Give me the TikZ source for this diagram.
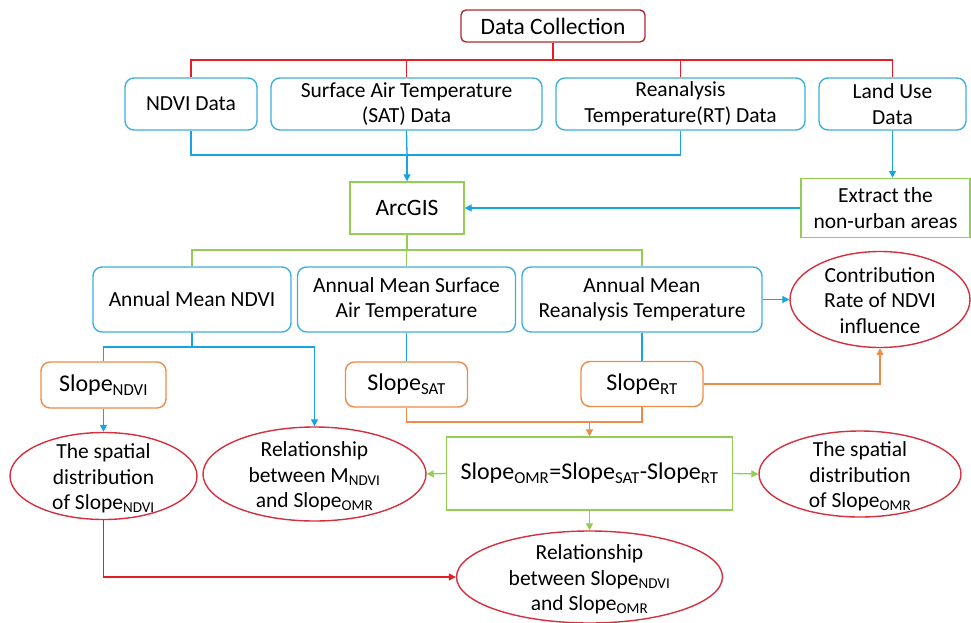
\documentclass[tikz,border=0pt]{standalone}
\usepackage{fontspec}
\setmainfont{Carlito}
\usepackage{tikz}
\usetikzlibrary{arrows.meta,shapes.geometric}
\definecolor{headred}{RGB}{178,40,52}
\definecolor{ovalred}{RGB}{212,48,62}
\definecolor{linered}{RGB}{228,30,36}
\definecolor{boxblue}{RGB}{62,176,222}
\definecolor{lineblue}{RGB}{22,164,226}
\definecolor{leafgreen}{RGB}{146,206,82}
\definecolor{slopeorange}{RGB}{236,140,72}
\newcommand{\ovaltext}[1]{\makebox[0pt]{\smash{\raisebox{-.38em}{\begin{tabular}{@{}c@{}}#1\end{tabular}}}}}

\begin{document}
\begin{tikzpicture}[x=1pt,y=-1pt,
  every node/.style={font=\fontsize{21.5}{25.5}\selectfont,align=center,inner sep=2pt},
  headbox/.style={draw=headred,line width=1.4pt,rounded corners=5pt,font=\fontsize{23.5}{28}\selectfont},
  databox/.style={draw=boxblue,line width=1.4pt,rounded corners=9pt},
  gisbox/.style={draw=leafgreen,line width=1.4pt},
  slopebox/.style={draw=slopeorange,line width=1.4pt,rounded corners=9pt,font=\fontsize{24}{28}\selectfont},
  result/.style={draw=ovalred,line width=1.4pt,ellipse,inner sep=0pt},
  redline/.style={linered,line width=1.3pt},
  blueline/.style={lineblue,line width=1.3pt},
  greenline/.style={leafgreen,line width=1.3pt},
  orangeline/.style={slopeorange,line width=1.3pt},
  >={Triangle[length=7pt,width=7pt]}]
  \useasboundingbox[fill=white] (0,0) rectangle (971,623);
  % data sources
  \node[headbox,minimum width=184,minimum height=32] (dc) at (553,26) {Data Collection};
  \node[databox,minimum width=132,minimum height=52] (ndvi) at (191,104) {NDVI Data};
  \node[databox,minimum width=271,minimum height=52] (sat) at (406.5,104) {Surface Air Temperature\\(SAT) Data};
  \node[databox,minimum width=249,minimum height=52] (rt) at (680.5,104) {Reanalysis\\Temperature(RT) Data};
  \node[databox,minimum width=147,minimum height=52] (lu) at (892.5,104) {Land Use\\Data};
  % processing
  \node[gisbox,minimum width=114,minimum height=52,font=\fontsize{23.5}{28}\selectfont] (arc) at (407,208) {ArcGIS};
  \node[gisbox,minimum width=169,minimum height=59] (ext) at (885.5,208) {Extract the\\non-urban areas};
  \node[databox,minimum width=198,minimum height=65] (amn) at (192,299.5) {Annual Mean NDVI};
  \node[databox,minimum width=218,minimum height=65] (ams) at (406.5,299.5) {Annual Mean Surface\\Air Temperature};
  \node[databox,minimum width=240,minimum height=65] (amr) at (642,299.5) {Annual Mean\\Reanalysis Temperature};
  \node[result,minimum width=180,minimum height=96] (cr) at (880,299.5) {\ovaltext{Contribution\\Rate of NDVI\\influence}};
  \node[slopebox,minimum width=125,minimum height=46] (sn) at (103.5,385) {Slope\textsubscript{NDVI}};
  \node[slopebox,minimum width=122,minimum height=45] (ss) at (406.5,384.5) {Slope\textsubscript{SAT}};
  \node[slopebox,minimum width=122,minimum height=45] (sr) at (642,384) {Slope\textsubscript{RT}};
  \node[gisbox,slopebox,draw=leafgreen,rounded corners=0pt,minimum width=286,minimum height=73] (omr) at (589.5,473.5) {Slope\textsubscript{OMR}=Slope\textsubscript{SAT}-Slope\textsubscript{RT}};
  % results
  \node[result,minimum width=187,minimum height=87] (dn) at (103.5,476) {\ovaltext{The spatial\\distribution\\of Slope\textsubscript{NDVI}}};
  \node[result,minimum width=223,minimum height=94] (rm) at (314.5,474) {\ovaltext{Relationship\\between M\textsubscript{NDVI}\\and Slope\textsubscript{OMR}}};
  \node[result,minimum width=202,minimum height=86] (do) at (860,474) {\ovaltext{The spatial\\distribution\\of Slope\textsubscript{OMR}}};
  \node[result,minimum width=266,minimum height=92] (rb) at (589.5,577) {\ovaltext{Relationship\\between Slope\textsubscript{NDVI}\\and Slope\textsubscript{OMR}}};
  % branching points
  \coordinate (split) at (553,60);
  \coordinate (merge) at (407,155);
  \coordinate (gsplit) at (407,250);
  \coordinate (nsplit) at (192,347);
  \coordinate (osplit) at (589.5,422);
  % connectors
  \draw[redline] (dc.south) -- (split);
  \draw[redline] (ndvi.north) |- (split) -| (lu.north);
  \draw[redline] (sat.north) -- (sat.north |- split);
  \draw[redline] (rt.north) -- (rt.north |- split);
  \draw[blueline] (ndvi.south) |- (merge) -| (rt.south);
  \draw[blueline] (sat.south) -- (merge);
  \draw[blueline,->] (merge) -- (arc.north);
  \draw[blueline,->] (lu.south) -- (lu.south |- ext.north);
  \draw[blueline,->] (ext.west) -- (arc.east);
  \draw[greenline] (arc.south) -- (gsplit);
  \draw[greenline] (amn.north) |- (gsplit) -| (amr.north);
  \draw[greenline] (ams.north) -- (ams.north |- gsplit);
  \draw[blueline,->] (amr.east) -- (cr.west);
  \draw[blueline] (amn.south) -- (nsplit) -| (sn.north);
  \draw[blueline,->] (nsplit) -| (rm.north);
  \draw[blueline] (ams.south) -- (ss.north);
  \draw[blueline] (amr.south) -- (sr.north);
  \draw[blueline,->] (sn.south) -- (dn.north);
  \draw[orangeline] (ss.south) |- (osplit) -| (sr.south);
  \draw[orangeline,->] (osplit) -- (omr.north);
  \draw[orangeline,->] (sr.east) -| (cr.south);
  \draw[greenline,->] (omr.west) -- (rm.east);
  \draw[greenline,->] (omr.east) -- (do.west);
  \draw[greenline,->] (omr.south) -- (rb.north);
  \draw[redline,->] (dn.south) |- (rb.west);
\end{tikzpicture}
\end{document}
